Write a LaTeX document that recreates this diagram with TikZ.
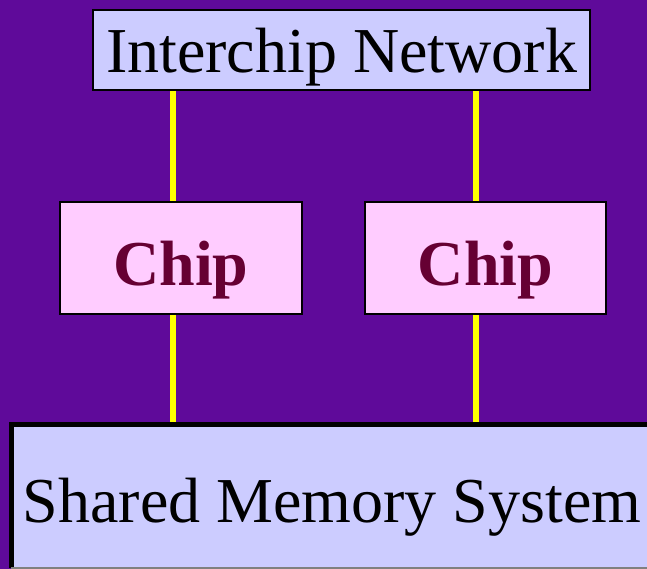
\documentclass[tikz,border=0pt]{standalone}
\usepackage{fontspec}
\setmainfont{Liberation Serif}
\definecolor{bgpurple}{HTML}{5F0A9A}
\definecolor{lavender}{HTML}{CCCCFF}
\definecolor{chippink}{HTML}{FFCCFF}
\definecolor{chiptext}{HTML}{660033}
\definecolor{wireyellow}{HTML}{FFFF00}
\tikzset{
  box/.style={rectangle, inner sep=0pt, outer sep=0pt, font=\fontsize{64}{70}\selectfont},
  netbox/.style={box, draw=black, line width=2pt, fill=lavender, text height=46pt, text depth=0pt},
  chipbox/.style={box, draw=black, line width=2pt, fill=chippink, text=chiptext,
    font=\fontsize{64}{70}\selectfont\bfseries, text height=54pt, text depth=0pt},
  membox/.style={box, fill=lavender, text height=52pt, text depth=0pt},
  wire/.style={wireyellow, line width=6pt},
}
\begin{document}
\begin{tikzpicture}[x=1pt, y=-1pt]
  % background
  \fill[bgpurple] (0,0) rectangle (647,569);
  \useasboundingbox (0,0) rectangle (647,569);

  % x positions of the two vertical links
  \coordinate (xl) at (173,0);
  \coordinate (xr) at (476,0);

  % boxes
  \node[netbox, minimum width=497pt, minimum height=80pt] (ic) at (341.5,50) {Interchip Network};
  \node[chipbox, minimum width=242pt, minimum height=112pt] (c1) at (181,258) {Chip};
  \node[chipbox, minimum width=241pt, minimum height=112pt] (c2) at (485.5,258) {Chip};
  \node[membox, minimum width=642pt, minimum height=144pt] (sm) at (332,496) {Shared Memory System};
  \draw[black, line width=5pt] (sm.south west) -- (sm.north west) -- (sm.north east);
  \draw[gray, line width=1.5pt] (sm.south west) -- (sm.south east);

  % yellow links
  \draw[wire] (ic.south -| xl) -- (c1.north -| xl);
  \draw[wire] (ic.south -| xr) -- (c2.north -| xr);
  \draw[wire] (c1.south -| xl) -- ([yshift=-2.5pt]sm.north -| xl);
  \draw[wire] (c2.south -| xr) -- ([yshift=-2.5pt]sm.north -| xr);

  % redraw box borders over link ends
  \draw[black, line width=2pt] (ic.south west) -- (ic.south east);
  \draw[black, line width=2pt] (c1.north west) -- (c1.north east) (c1.south west) -- (c1.south east);
  \draw[black, line width=2pt] (c2.north west) -- (c2.north east) (c2.south west) -- (c2.south east);
  \draw[black, line width=5pt] (sm.north west) -- (sm.north east);
\end{tikzpicture}
\end{document}
